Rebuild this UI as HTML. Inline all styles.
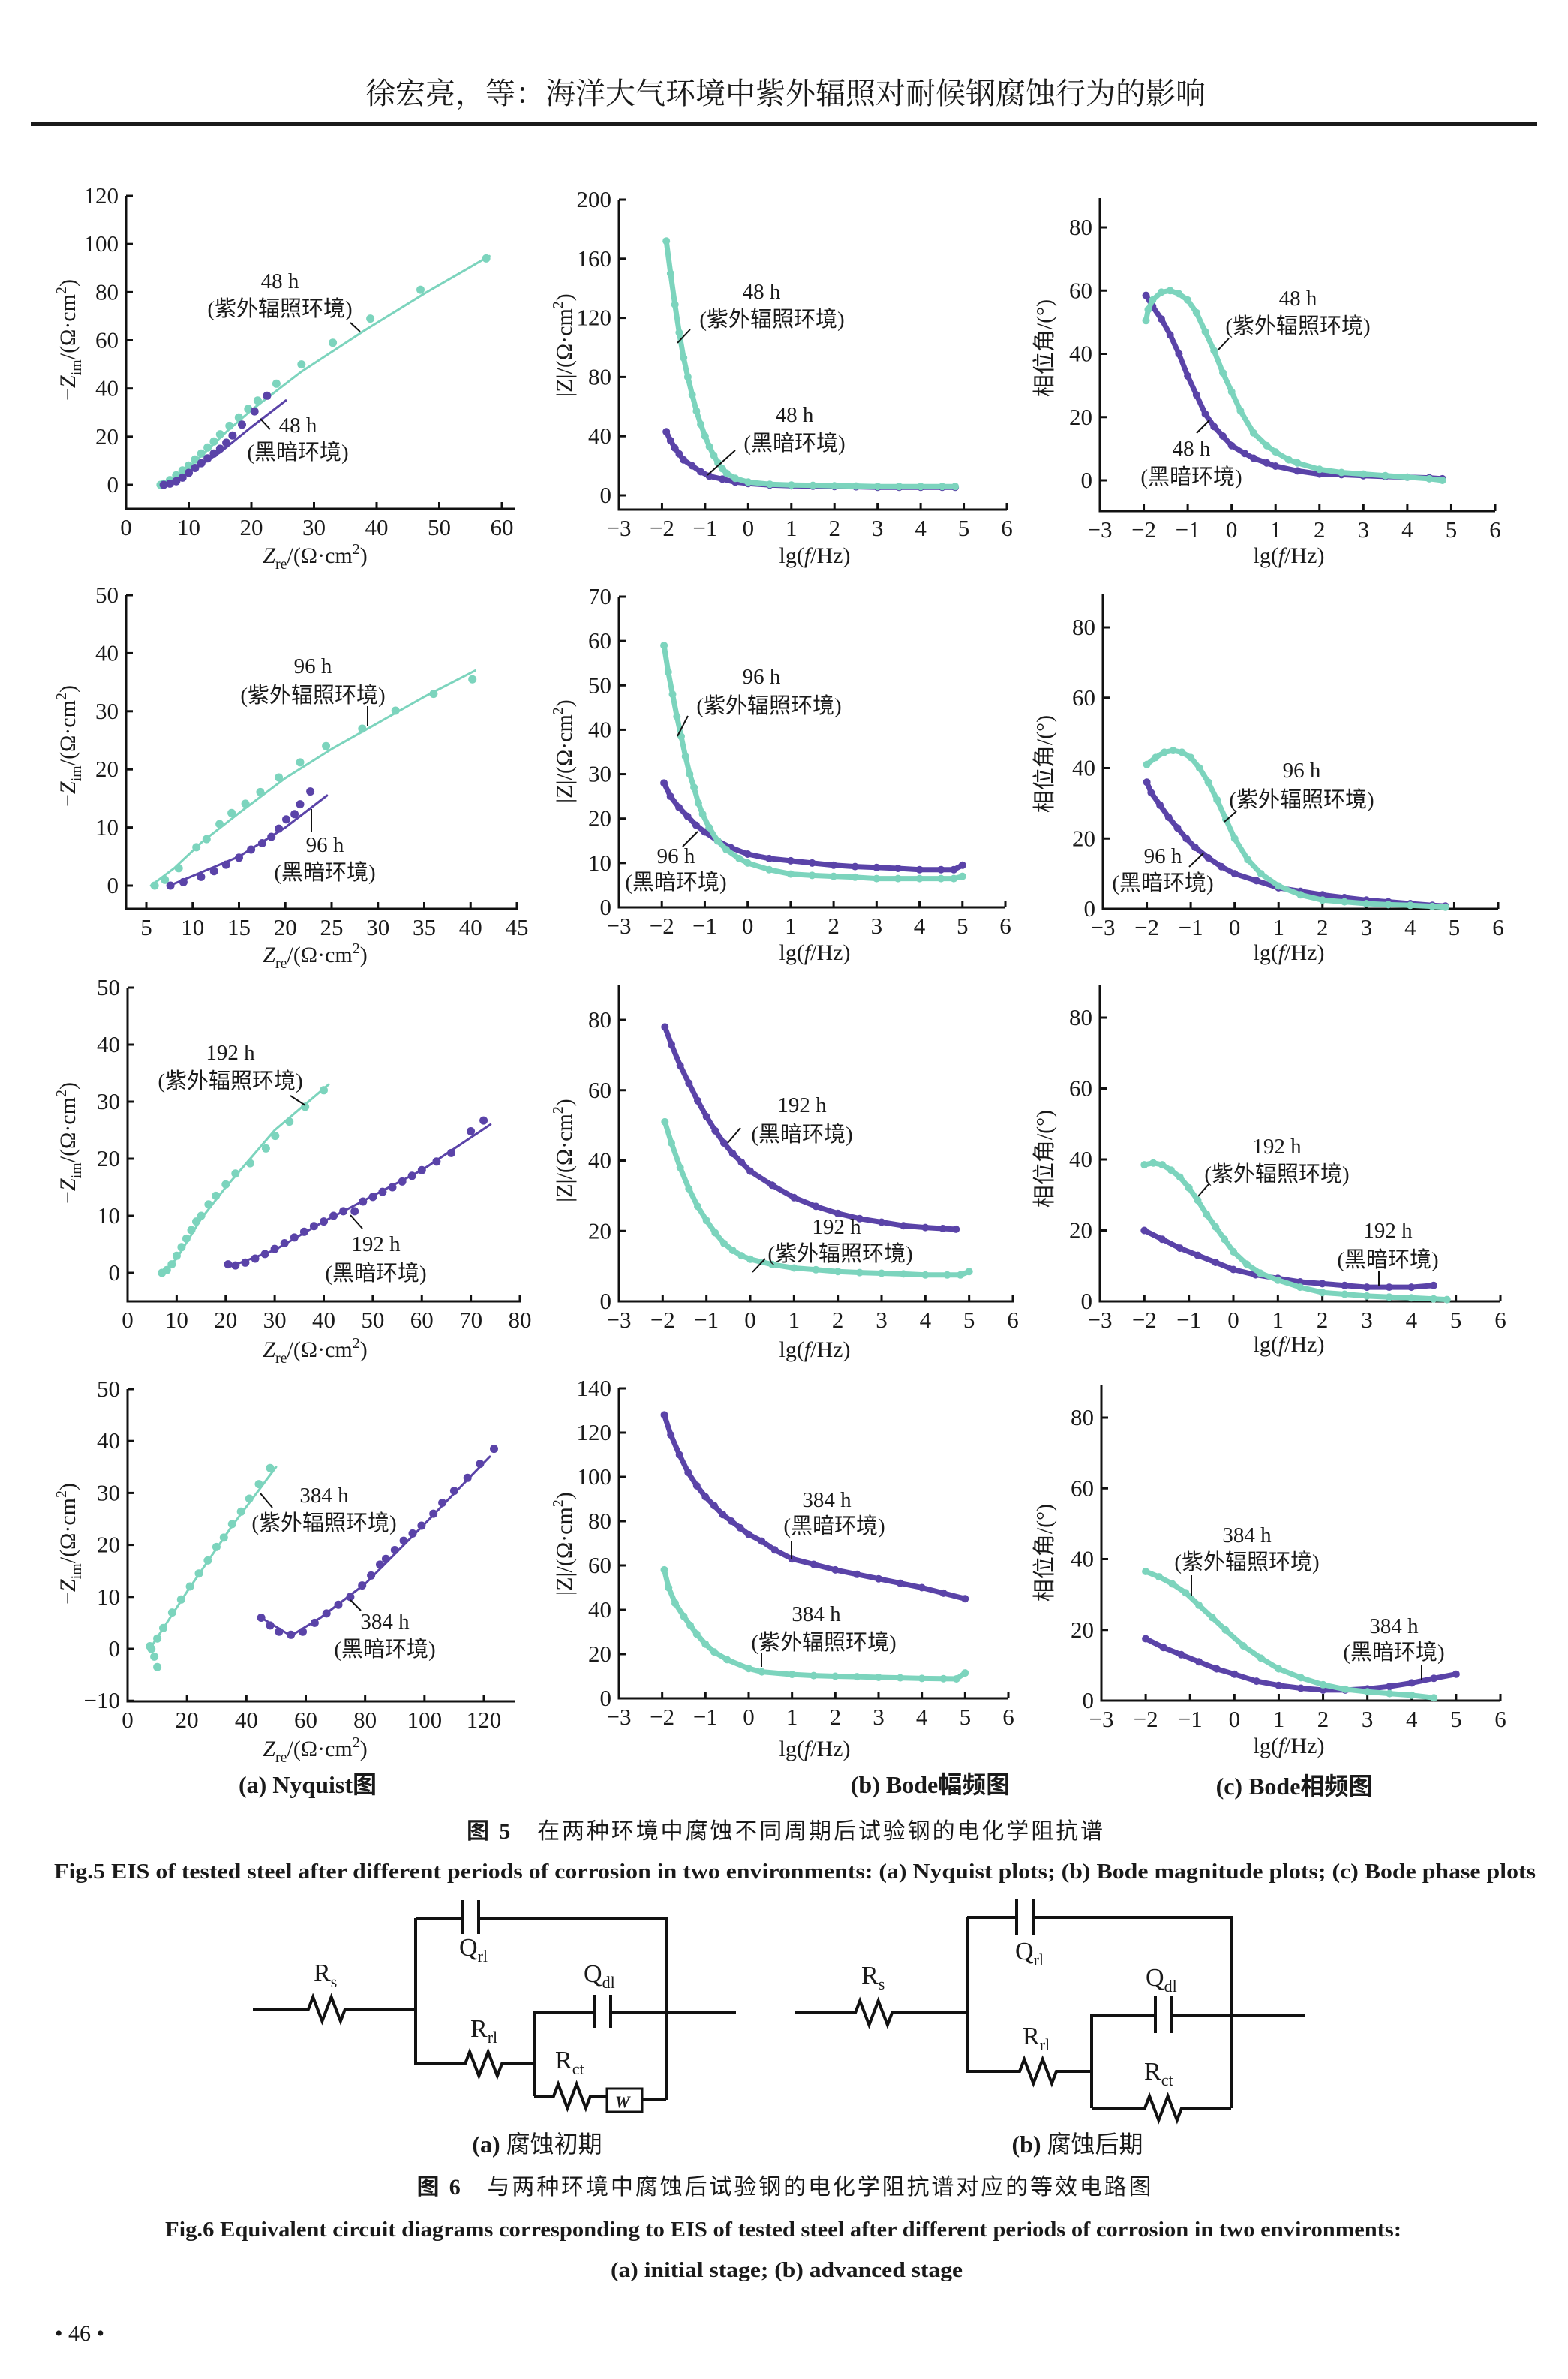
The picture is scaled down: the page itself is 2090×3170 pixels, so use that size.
<!DOCTYPE html>
<html><head><meta charset="utf-8"><style>
html,body{margin:0;padding:0;background:#fff}
svg{display:block}
text{font-family:"Liberation Serif","Noto Serif CJK SC","Noto Sans CJK SC",serif;fill:#1a1a1a}
.cjk{font-family:"Liberation Serif","Noto Sans CJK SC",sans-serif}
.serifcjk{font-family:"Liberation Serif","Noto Serif CJK SC",serif}
</style></head><body>
<svg id="page" xmlns="http://www.w3.org/2000/svg" width="2090" height="3170" viewBox="0 0 2090 3170">
<rect width="2090" height="3170" fill="#fff"/>
<text x="1047" y="138" font-size="40" text-anchor="middle" class="serifcjk">徐宏亮，等：海洋大气环境中紫外辐照对耐候钢腐蚀行为的影响</text>
<rect x="41" y="163" width="2008" height="5" fill="#1a1a1a"/>
<g id="charts"></g>
<g id="annot" font-size="29">
 <text x="373" y="384" text-anchor="middle">48 h</text><text class="cjk" x="373" y="421" text-anchor="middle">(紫外辐照环境)</text>
 <line x1="467" y1="430" x2="480" y2="442" stroke="#111" stroke-width="2"/>
 <text x="397" y="576" text-anchor="middle">48 h</text><text class="cjk" x="397" y="612" text-anchor="middle">(黑暗环境)</text>
 <line x1="360" y1="572" x2="347" y2="558" stroke="#111" stroke-width="2"/>
 <text x="1015" y="398" text-anchor="middle">48 h</text><text class="cjk" x="1029" y="435" text-anchor="middle">(紫外辐照环境)</text>
 <line x1="903" y1="457" x2="920" y2="439" stroke="#111" stroke-width="2"/>
 <text x="1059" y="562" text-anchor="middle">48 h</text><text class="cjk" x="1059" y="600" text-anchor="middle">(黑暗环境)</text>
 <line x1="943" y1="633" x2="980" y2="600" stroke="#111" stroke-width="2"/>
 <text x="1730" y="407" text-anchor="middle">48 h</text><text class="cjk" x="1730" y="444" text-anchor="middle">(紫外辐照环境)</text>
 <line x1="1624" y1="466" x2="1638" y2="451" stroke="#111" stroke-width="2"/>
 <text x="1588" y="607" text-anchor="middle">48 h</text><text class="cjk" x="1588" y="645" text-anchor="middle">(黑暗环境)</text>
 <line x1="1595" y1="577" x2="1612" y2="560" stroke="#111" stroke-width="2"/>
 <text x="417" y="897" text-anchor="middle">96 h</text><text class="cjk" x="417" y="936" text-anchor="middle">(紫外辐照环境)</text>
 <line x1="490" y1="941" x2="490" y2="968" stroke="#111" stroke-width="2"/>
 <text x="433" y="1135" text-anchor="middle">96 h</text><text class="cjk" x="433" y="1172" text-anchor="middle">(黑暗环境)</text>
 <line x1="415" y1="1078" x2="415" y2="1108" stroke="#111" stroke-width="2"/>
 <text x="1015" y="911" text-anchor="middle">96 h</text><text class="cjk" x="1025" y="950" text-anchor="middle">(紫外辐照环境)</text>
 <line x1="903" y1="981" x2="917" y2="954" stroke="#111" stroke-width="2"/>
 <text x="901" y="1150" text-anchor="middle">96 h</text><text class="cjk" x="901" y="1185" text-anchor="middle">(黑暗环境)</text>
 <line x1="910" y1="1128" x2="930" y2="1108" stroke="#111" stroke-width="2"/>
 <text x="1735" y="1036" text-anchor="middle">96 h</text><text class="cjk" x="1735" y="1075" text-anchor="middle">(紫外辐照环境)</text>
 <line x1="1632" y1="1095" x2="1648" y2="1081" stroke="#111" stroke-width="2"/>
 <text x="1550" y="1150" text-anchor="middle">96 h</text><text class="cjk" x="1550" y="1186" text-anchor="middle">(黑暗环境)</text>
 <line x1="1585" y1="1155" x2="1604" y2="1137" stroke="#111" stroke-width="2"/>
 <text x="307" y="1412" text-anchor="middle">192 h</text><text class="cjk" x="307" y="1450" text-anchor="middle">(紫外辐照环境)</text>
 <line x1="387" y1="1460" x2="407" y2="1473" stroke="#111" stroke-width="2"/>
 <text x="501" y="1667" text-anchor="middle">192 h</text><text class="cjk" x="501" y="1706" text-anchor="middle">(黑暗环境)</text>
 <line x1="467" y1="1619" x2="483" y2="1637" stroke="#111" stroke-width="2"/>
 <text x="1069" y="1482" text-anchor="middle">192 h</text><text class="cjk" x="1069" y="1521" text-anchor="middle">(黑暗环境)</text>
 <line x1="970" y1="1523" x2="987" y2="1503" stroke="#111" stroke-width="2"/>
 <text x="1115" y="1644" text-anchor="middle">192 h</text><text class="cjk" x="1120" y="1680" text-anchor="middle">(紫外辐照环境)</text>
 <line x1="1003" y1="1695" x2="1020" y2="1677" stroke="#111" stroke-width="2"/>
 <text x="1702" y="1537" text-anchor="middle">192 h</text><text class="cjk" x="1702" y="1574" text-anchor="middle">(紫外辐照环境)</text>
 <line x1="1597" y1="1594" x2="1612" y2="1577" stroke="#111" stroke-width="2"/>
 <text x="1850" y="1649" text-anchor="middle">192 h</text><text class="cjk" x="1850" y="1688" text-anchor="middle">(黑暗环境)</text>
 <line x1="1838" y1="1694" x2="1838" y2="1714" stroke="#111" stroke-width="2"/>
 <text x="432" y="2002" text-anchor="middle">384 h</text><text class="cjk" x="432" y="2039" text-anchor="middle">(紫外辐照环境)</text>
 <line x1="347" y1="1990" x2="363" y2="2009" stroke="#111" stroke-width="2"/>
 <text x="513" y="2170" text-anchor="middle">384 h</text><text class="cjk" x="513" y="2207" text-anchor="middle">(黑暗环境)</text>
 <line x1="467" y1="2132" x2="481" y2="2146" stroke="#111" stroke-width="2"/>
 <text x="1102" y="2008" text-anchor="middle">384 h</text><text class="cjk" x="1112" y="2043" text-anchor="middle">(黑暗环境)</text>
 <line x1="1055" y1="2053" x2="1055" y2="2077" stroke="#111" stroke-width="2"/>
 <text x="1088" y="2160" text-anchor="middle">384 h</text><text class="cjk" x="1098" y="2198" text-anchor="middle">(紫外辐照环境)</text>
 <line x1="1015" y1="2203" x2="1015" y2="2221" stroke="#111" stroke-width="2"/>
 <text x="1662" y="2055" text-anchor="middle">384 h</text><text class="cjk" x="1662" y="2091" text-anchor="middle">(紫外辐照环境)</text>
 <line x1="1588" y1="2099" x2="1588" y2="2126" stroke="#111" stroke-width="2"/>
 <text x="1858" y="2176" text-anchor="middle">384 h</text><text class="cjk" x="1858" y="2211" text-anchor="middle">(黑暗环境)</text>
 <line x1="1895" y1="2219" x2="1895" y2="2239" stroke="#111" stroke-width="2"/>
</g>
<g font-size="32" font-weight="bold">
 <text class="cjk" x="410" y="2389" text-anchor="middle">(a) Nyquist图</text>
 <text class="cjk" x="1240" y="2389" text-anchor="middle">(b) Bode幅频图</text>
 <text class="cjk" x="1725" y="2391" text-anchor="middle">(c) Bode相频图</text>
</g>
<text class="cjk" x="1046" y="2450" font-size="30" text-anchor="middle" textLength="848" lengthAdjust="spacing"><tspan font-weight="bold">图 5</tspan>　在两种环境中腐蚀不同周期后试验钢的电化学阻抗谱</text>
<text x="72" y="2503" font-size="29" font-weight="bold" textLength="1975" lengthAdjust="spacingAndGlyphs">Fig.5   EIS of tested steel after different periods of corrosion in two environments: (a) Nyquist plots; (b) Bode magnitude plots; (c) Bode phase plots</text>
<g id="circuits" stroke="#111" stroke-width="4" fill="none"></g>
<g font-size="34">
 <text x="418" y="2640">R<tspan font-size="22" dy="8">s</tspan></text>
 <text x="612" y="2606">Q<tspan font-size="22" dy="8">rl</tspan></text>
 <text x="778" y="2641">Q<tspan font-size="22" dy="8">dl</tspan></text>
 <text x="627" y="2714">R<tspan font-size="22" dy="8">rl</tspan></text>
 <text x="740" y="2756">R<tspan font-size="22" dy="8">ct</tspan></text>
 <text x="820" y="2808" font-size="22" font-style="italic" font-weight="bold" font-family="Liberation Sans, sans-serif">W</text>
 <text x="1148" y="2643">R<tspan font-size="22" dy="8">s</tspan></text>
 <text x="1353" y="2611">Q<tspan font-size="22" dy="8">rl</tspan></text>
 <text x="1527" y="2646">Q<tspan font-size="22" dy="8">dl</tspan></text>
 <text x="1363" y="2724">R<tspan font-size="22" dy="8">rl</tspan></text>
 <text x="1525" y="2771">R<tspan font-size="22" dy="8">ct</tspan></text>
</g>
<g font-size="32">
 <text class="cjk" x="716" y="2868" text-anchor="middle"><tspan font-weight="bold">(a)</tspan> 腐蚀初期</text>
 <text class="cjk" x="1436" y="2868" text-anchor="middle"><tspan font-weight="bold">(b)</tspan> 腐蚀后期</text>
</g>
<text class="cjk" x="1045" y="2924" font-size="30" text-anchor="middle" textLength="979" lengthAdjust="spacing"><tspan font-weight="bold">图 6</tspan>　与两种环境中腐蚀后试验钢的电化学阻抗谱对应的等效电路图</text>
<text x="220" y="2980" font-size="29" font-weight="bold" textLength="1648" lengthAdjust="spacingAndGlyphs">Fig.6   Equivalent circuit diagrams corresponding to EIS of tested steel after different periods of corrosion in two environments:</text>
<text x="814" y="3034" font-size="29" font-weight="bold" textLength="469" lengthAdjust="spacingAndGlyphs">(a) initial stage; (b) advanced stage</text>
<text x="73" y="3119" font-size="30">• 46 •</text>
</svg>
<script>
const a1UvX=[5.5,6,7,8,9,10,11,12,13,14,15,16.5,18,19.5,21,24,28,33,39,47,57.5];
const a1UvY=[0,0.5,2,4,6,8,10.5,13,15.5,18,21,24.5,28,31.5,35,42,50,59,69,81,94];
const a1UvFitX=[5.5,8,12,16,20,28,38,48,58];
const a1UvFitY=[0,3,12,22,31,47,64,80,95];
const a1DkX=[6,7,8,9,10,11,12,13,14,15,16,17,18.5,20.5,22.5];
const a1DkY=[0,0.5,1.5,3,5,7,9,11,13,15,17.5,20.5,25,30.5,37];
const a1DkFitX=[6,10,15,20,25.5];
const a1DkFitY=[0,5,13.5,24,35];
const a2UvX=[-1.9,-1.8,-1.7,-1.6,-1.5,-1.4,-1.3,-1.2,-1.1,-1,-0.9,-0.8,-0.7,-0.6,-0.5,-0.3,0,0.5,1,1.5,2,2.5,3,3.5,4,4.5,4.8];
const a2UvY=[172,150,129,110,93,80,68,57,48,40,33,27,22,18,15,11.5,9,7.5,7,6.8,6.5,6.3,6,6,6,6,6];
const a2DkX=[-1.9,-1.8,-1.7,-1.6,-1.5,-1.3,-1.1,-0.9,-0.6,-0.3,0,0.5,1,1.5,2,2.5,3,3.5,4,4.5,4.8];
const a2DkY=[43,37,32,28,24,20,16,13,11,9,8,7,6.5,6.2,6,5.8,5.5,5.5,5.5,5.5,5.5];
const a3UvX=[-1.95,-1.9,-1.8,-1.6,-1.4,-1.2,-1,-0.8,-0.6,-0.4,-0.2,0,0.2,0.5,0.8,1,1.3,1.5,2,2.5,3,3.5,4,4.5,4.8];
const a3UvY=[50.5,54,57,59.5,60,59,57,53,47,41,34,28,22,15,11,9,6.5,5.5,3.5,2.5,2,1.5,1,0.5,0];
const a3DkX=[-1.95,-1.8,-1.6,-1.4,-1.2,-1,-0.8,-0.6,-0.4,-0.2,0,0.3,0.5,0.8,1,1.5,2,2.5,3,3.5,4,4.5,4.8];
const a3DkY=[58.5,55,51,46,40,33,27,21,17,14,11,8.5,7,5.5,4.5,3,2,1.8,1.5,1.2,1,0.8,0.5];
const b1UvX=[5.9,7,8.5,10.4,11.5,12.9,14.2,15.7,17.3,19.3,21.6,24.4,28.3,31.9,36,40.2];
const b1UvY=[0,1,3,6.6,8,10.6,12.5,14.1,16.1,18.6,21.2,24,27,30.1,33,35.5];
const b1UvFitX=[5.5,8,11,15,20,25,30,35,40.5];
const b1UvFitY=[0,3,7.5,12.5,18.5,23.5,28,32.5,37];
const b1DkX=[7.6,9,10.9,12.3,13.6,15,16.3,17.5,18.5,19.3,20.1,21,21.6,22.7];
const b1DkY=[0,0.6,1.5,2.5,3.6,4.8,6.2,7.3,8.4,9.8,11.4,12.3,14,16.2];
const b1DkFitX=[7.5,12,15,20,24.5];
const b1DkFitY=[0,3,5,10,15.5];
const b2UvX=[-1.95,-1.85,-1.75,-1.65,-1.55,-1.45,-1.35,-1.25,-1.15,-1.05,-0.9,-0.7,-0.5,-0.2,0,0.5,1,1.5,2,2.5,3,3.5,4,4.5,4.8,5];
const b2UvY=[59,53,48,43,38.5,34,30,27,23.5,21,18,15,13,11,10,8.5,7.5,7.2,7,6.8,6.5,6.5,6.5,6.5,6.5,7];
const b2DkX=[-1.95,-1.8,-1.6,-1.4,-1.2,-1,-0.7,-0.4,0,0.5,1,1.5,2,2.5,3,3.5,4,4.5,4.8,5];
const b2DkY=[28,25,22.5,20.5,18.5,17,15,13.5,12,11,10.5,10,9.5,9.2,9,8.8,8.5,8.5,8.5,9.5];
const b3UvX=[-2,-1.8,-1.6,-1.4,-1.2,-1,-0.8,-0.6,-0.4,-0.2,0,0.3,0.6,1,1.5,2,2.5,3,3.5,4,4.5,4.8];
const b3UvY=[41,43,44.5,45,44.5,43,40,36,31,25.5,20,14,10,6.5,4,2.5,2,1.5,1.2,1,0.7,0.5];
const b3DkX=[-2,-1.9,-1.7,-1.5,-1.3,-1.1,-0.9,-0.6,-0.3,0,0.5,1,1.5,2,2.5,3,3.5,4,4.5,4.8];
const b3DkY=[36,33,29.5,26,23,20,17.5,14.5,12,10,8,6,5,4,3.2,2.5,2,1.5,1,0.8];
const c1UvX=[7,8,9,10,11,12,13,14,15,16.5,18,20,22,25,28.2,30.1,33,36.2,40];
const c1UvY=[0,0.5,1.5,3,4.5,6,7.5,9,10,12,13.5,15.5,17.4,19.2,21.8,24,26.5,29.1,32];
const c1UvFitX=[7,10,15,20,30,41];
const c1UvFitY=[0,2.5,9.5,15,25,33];
const c1DkX=[20.5,22,24,26,28,30,32,34,36,38,40,42,44,46.3,48,50,52,54,56,58,60,63,66,70,72.6];
const c1DkY=[1.5,1.3,1.8,2.5,3.3,4.2,5.2,6.2,7.2,8.2,9,10,10.8,10.8,12.5,13.3,14.2,15,16,17,18,19.5,21,24.8,26.7];
const c1DkFitX=[20.5,30,40,50,60,74];
const c1DkFitY=[1,4,9,13.5,18,26];
const c2DkX=[-1.95,-1.8,-1.6,-1.4,-1.2,-1,-0.8,-0.6,-0.4,-0.2,0,0.5,1,1.5,2,2.5,3,3.5,4,4.4,4.7];
const c2DkY=[78,73,67,62,57,52.5,48.5,45,42,39.5,37,33,29.5,27,25,23.5,22.5,21.5,21,20.7,20.5];
const c2UvX=[-1.95,-1.8,-1.6,-1.4,-1.2,-1,-0.8,-0.6,-0.4,-0.2,0,0.5,1,1.5,2,2.5,3,3.5,4,4.5,4.8,5];
const c2UvY=[51,45,38,32,27,23,19.5,16.5,14.5,13,12,10.5,9.5,9,8.5,8.2,8,7.8,7.5,7.5,7.5,8.5];
const c3UvX=[-2,-1.8,-1.6,-1.4,-1.2,-1,-0.8,-0.6,-0.4,-0.2,0,0.3,0.6,1,1.5,2,2.5,3,3.5,4,4.5,4.8];
const c3UvY=[38.5,39,38.5,37,35,32,28.5,24.5,21,17.5,14,10.5,8,6,4,2.5,2,1.5,1.2,1,0.7,0.5];
const c3DkX=[-2,-1.6,-1.2,-0.8,-0.4,0,0.5,1,1.5,2,2.5,3,3.5,4,4.5];
const c3DkY=[20,17.5,15,13,11,9,7.5,6.5,5.5,5,4.5,4,4,4,4.5];
const d1UvX=[7.5,9,10,8,10,12,15,18,21,24,27,29.9,32.4,35.2,38.2,41,44.2,48];
const d1UvY=[0.5,-1.5,-3.5,0,2,4,7,9.5,12,14.5,17,19.6,21.4,24,26.4,28.9,31.7,34.8];
const d1UvFitX=[7.5,20,35,50];
const d1UvFitY=[0,11,23.5,35];
const d1DkX=[45,48,51,55,59,63,67,71,75,79,82,85,87,90,93,96,99,103,106,110,114.5,118.7,123.4];
const d1DkY=[6,4.5,3.3,2.7,3.3,5,6.8,8.5,10,12.2,14.1,16.2,17.3,19,20.8,22.2,23.7,26,28.1,30.4,32.9,35.6,38.5];
const d1DkFitX=[45,55,65,80,100,122];
const d1DkFitY=[6,2.5,6,12.5,24,37];
const d2DkX=[-1.95,-1.8,-1.6,-1.4,-1.2,-1,-0.8,-0.6,-0.4,-0.2,0,0.3,0.6,1,1.5,2,2.5,3,3.5,4,4.5,5];
const d2DkY=[128,119,110,102,96,91,87,83,80,77,74,71,67,63,60.5,58,56,54,52,50,47.5,45];
const d2UvX=[-1.95,-1.85,-1.7,-1.5,-1.35,-1.2,-1,-0.8,-0.5,0,0.3,1,1.5,2,2.5,3,3.5,4,4.5,4.8,5];
const d2UvY=[58,50,43,37,33,29,24.5,21,17.5,13.5,12,10.8,10.3,10,9.8,9.5,9.3,9,8.9,8.8,11.5];
const d3UvX=[-2,-1.7,-1.4,-1.1,-0.8,-0.5,-0.2,0.2,0.6,1,1.5,2,2.5,3,3.5,4,4.5];
const d3UvY=[36.5,35,33,30.5,27,23.5,20,15.5,12,9,6.5,4.5,3.2,2.5,2,1.5,0.8];
const d3DkX=[-2,-1.6,-1.2,-0.8,-0.4,0,0.5,1,1.5,2,2.5,3,3.5,4,4.5,5];
const d3DkY=[17.5,15,13,11,9,7.5,5.5,4.3,3.5,3,3,3.3,4,5,6.3,7.5];
const nyqA1XTicks=[0,10,20,30,40,50,60], nyqA1YTicks=[0,20,40,60,80,100,120];
const nyqB1XTicks=[5,10,15,20,25,30,35,40,45], nyqB1YTicks=[0,10,20,30,40,50];
const nyqC1XTicks=[0,10,20,30,40,50,60,70,80], nyqC1YTicks=[0,10,20,30,40,50];
const nyqD1XTicks=[0,20,40,60,80,100,120], nyqD1YTicks=[-10,0,10,20,30,40,50];
const lgXTicks=[-3,-2,-1,0,1,2,3,4,5,6];
const magA2YTicks=[0,40,80,120,160,200], magB2YTicks=[0,10,20,30,40,50,60,70];
const magC2YTicks=[0,20,40,60,80], magD2YTicks=[0,20,40,60,80,100,120,140];
const phaseYTicks=[0,20,40,60,80];

const UV='#7cd4bd', DK='#5a43a8';
const NS='http://www.w3.org/2000/svg';
const root=document.getElementById('charts');
function el(tag,attrs,parent){const e=document.createElementNS(NS,tag);for(const k in attrs)e.setAttribute(k,attrs[k]);(parent||root).appendChild(e);return e;}
function fmt(v){return v<0?'\u2212'+Math.abs(v):String(v);}

function chart(name,c,xTicks,yTicks,series){
  const g=el('g',{});
  
  
  const sx=v=>c.x0p+(v-c.x0v)*(c.x1p-c.x0p)/(c.x1v-c.x0v);
  const sy=v=>c.y0p+(v-c.y0v)*(c.y1p-c.y0p)/(c.y1v-c.y0v);
  const ya=el('line',{x1:c.left,y1:c.top,x2:c.left,y2:c.bottom,stroke:'#111','stroke-width':3},g);
  
  
  const xa=el('line',{x1:c.left-1.5,y1:c.bottom,x2:c.right,y2:c.bottom,stroke:'#111','stroke-width':3},g);
  
  
  yTicks.forEach(v=>{
    el('line',{x1:c.left,y1:sy(v),x2:c.left+9,y2:sy(v),stroke:'#111','stroke-width':3},g);
    const t=el('text',{x:c.left-10,y:sy(v)+10,'font-size':31,'text-anchor':'end'},g);
    t.textContent=fmt(v);
    
    
  });
  xTicks.forEach(v=>{
    if(Math.abs(sx(v)-c.left)>3) el('line',{x1:sx(v),y1:c.bottom,x2:sx(v),y2:c.bottom-9,stroke:'#111','stroke-width':3},g);
    const t=el('text',{x:sx(v),y:c.bottom+35,'font-size':31,'text-anchor':'middle'},g);
    t.textContent=fmt(v);
    
    
  });
  series.forEach(s=>{
    const lx=s.fx||s.x, ly=s.fy||s.y;
    const pl=el('polyline',{points:lx.map((v,i)=>sx(v).toFixed(1)+','+sy(ly[i]).toFixed(1)).join(' '),fill:'none',stroke:s.col,'stroke-width':s.fx?3:7,'stroke-linejoin':'round','stroke-linecap':'round'},g);
    
    
    s.x.forEach((v,i)=>{
      const d=el('circle',{cx:sx(v).toFixed(1),cy:sy(s.y[i]).toFixed(1),r:s.fx?5.5:5,fill:s.col},g);
      
      
    });
  });
  return g;
}
function titleText(x,y,html,rot,name){
  const t=el('text',{x:x,y:y,'font-size':30,'text-anchor':'middle',class:'cjk'});
  if(rot) t.setAttribute('transform','rotate(-90 '+x+' '+(y-10)+')');
  t.innerHTML=html;
  
  
}
const nyqY='\u2212<tspan font-style="italic">Z</tspan><tspan font-size="20" dy="8">im</tspan><tspan dy="-8">/(Ω·cm</tspan><tspan font-size="20" dy="-12">2</tspan><tspan dy="12">)</tspan>';
const nyqX='<tspan font-style="italic">Z</tspan><tspan font-size="20" dy="8">re</tspan><tspan dy="-8">/(Ω·cm</tspan><tspan font-size="20" dy="-12">2</tspan><tspan dy="12">)</tspan>';
const magY='|Z|/(Ω·cm<tspan font-size="20" dy="-12">2</tspan><tspan dy="12">)</tspan>';
const lgX='lg(<tspan font-style="italic">f</tspan>/Hz)';
const phY='相位角/(°)';

chart('nyquist-48h',{x0p:168,x0v:0,x1p:669,x1v:60,y0p:646,y0v:0,y1p:261,y1v:120,left:168,right:687,top:261,bottom:678},nyqA1XTicks,nyqA1YTicks,
 [{name:'uv-48h',col:UV,x:a1UvX,y:a1UvY,fx:a1UvFitX,fy:a1UvFitY},{name:'dark-48h',col:DK,x:a1DkX,y:a1DkY,fx:a1DkFitX,fy:a1DkFitY}]);
chart('bode-mag-48h',{x0p:825,x0v:-3,x1p:1342,x1v:6,y0p:660,y0v:0,y1p:266,y1v:200,left:825,right:1342,top:266,bottom:679},lgXTicks,magA2YTicks,
 [{name:'dark-48h',col:DK,x:a2DkX,y:a2DkY},{name:'uv-48h',col:UV,x:a2UvX,y:a2UvY}]);
chart('bode-phase-48h',{x0p:1466,x0v:-3,x1p:1993,x1v:6,y0p:640,y0v:0,y1p:303,y1v:80,left:1466,right:1993,top:264,bottom:681},lgXTicks,phaseYTicks,
 [{name:'dark-48h',col:DK,x:a3DkX,y:a3DkY},{name:'uv-48h',col:UV,x:a3UvX,y:a3UvY}]);
chart('nyquist-96h',{x0p:195,x0v:5,x1p:689,x1v:45,y0p:1180,y0v:0,y1p:793,y1v:50,left:168,right:690,top:793,bottom:1211},nyqB1XTicks,nyqB1YTicks,
 [{name:'uv-96h',col:UV,x:b1UvX,y:b1UvY,fx:b1UvFitX,fy:b1UvFitY},{name:'dark-96h',col:DK,x:b1DkX,y:b1DkY,fx:b1DkFitX,fy:b1DkFitY}]);
chart('bode-mag-96h',{x0p:825,x0v:-3,x1p:1340,x1v:6,y0p:1209,y0v:0,y1p:795,y1v:70,left:825,right:1340,top:795,bottom:1209},lgXTicks,magB2YTicks,
 [{name:'dark-96h',col:DK,x:b2DkX,y:b2DkY},{name:'uv-96h',col:UV,x:b2UvX,y:b2UvY}]);
chart('bode-phase-96h',{x0p:1470,x0v:-3,x1p:1997,x1v:6,y0p:1211,y0v:0,y1p:836,y1v:80,left:1470,right:1997,top:792,bottom:1211},lgXTicks,phaseYTicks,
 [{name:'dark-96h',col:DK,x:b3DkX,y:b3DkY},{name:'uv-96h',col:UV,x:b3UvX,y:b3UvY}]);
chart('nyquist-192h',{x0p:170,x0v:0,x1p:693,x1v:80,y0p:1696,y0v:0,y1p:1316,y1v:50,left:170,right:695,top:1316,bottom:1734},nyqC1XTicks,nyqC1YTicks,
 [{name:'uv-192h',col:UV,x:c1UvX,y:c1UvY,fx:c1UvFitX,fy:c1UvFitY},{name:'dark-192h',col:DK,x:c1DkX,y:c1DkY,fx:c1DkFitX,fy:c1DkFitY}]);
chart('bode-mag-192h',{x0p:825,x0v:-3,x1p:1350,x1v:6,y0p:1734,y0v:0,y1p:1359,y1v:80,left:825,right:1352,top:1313,bottom:1734},lgXTicks,magC2YTicks,
 [{name:'dark-192h',col:DK,x:c2DkX,y:c2DkY},{name:'uv-192h',col:UV,x:c2UvX,y:c2UvY}]);
chart('bode-phase-192h',{x0p:1466,x0v:-3,x1p:2000,x1v:6,y0p:1734,y0v:0,y1p:1356,y1v:80,left:1466,right:2000,top:1312,bottom:1734},lgXTicks,phaseYTicks,
 [{name:'dark-192h',col:DK,x:c3DkX,y:c3DkY},{name:'uv-192h',col:UV,x:c3UvX,y:c3UvY}]);
chart('nyquist-384h',{x0p:170,x0v:0,x1p:645,x1v:120,y0p:2197,y0v:0,y1p:1851,y1v:50,left:170,right:687,top:1851,bottom:2267},nyqD1XTicks,nyqD1YTicks,
 [{name:'uv-384h',col:UV,x:d1UvX,y:d1UvY,fx:d1UvFitX,fy:d1UvFitY},{name:'dark-384h',col:DK,x:d1DkX,y:d1DkY,fx:d1DkFitX,fy:d1DkFitY}]);
chart('bode-mag-384h',{x0p:825,x0v:-3,x1p:1344,x1v:6,y0p:2263,y0v:0,y1p:1850,y1v:140,left:825,right:1344,top:1850,bottom:2263},lgXTicks,magD2YTicks,
 [{name:'dark-384h',col:DK,x:d2DkX,y:d2DkY},{name:'uv-384h',col:UV,x:d2UvX,y:d2UvY}]);
chart('bode-phase-384h',{x0p:1468,x0v:-3,x1p:2000,x1v:6,y0p:2266,y0v:0,y1p:1889,y1v:80,left:1468,right:2000,top:1846,bottom:2266},lgXTicks,phaseYTicks,
 [{name:'dark-384h',col:DK,x:d3DkX,y:d3DkY},{name:'uv-384h',col:UV,x:d3UvX,y:d3UvY}]);

[[453,740],[994,1272],[1523,1798],[2057,2330]].forEach(r=>{
  titleText(90,r[0]+10,nyqY,true,'nyquist-y-axis-title');
  titleText(420,r[1]+10,nyqX,false,'nyquist-x-axis-title');
});
[[460,740],[1001,1269],[1533,1798],[2057,2330]].forEach(r=>{
  titleText(752,r[0]+10,magY,true,'bode-mag-y-axis-title');
  titleText(1086,r[1]+10,lgX,false,'bode-mag-x-axis-title');
});
[[464,740],[1018,1269],[1544,1791],[2069,2326]].forEach(r=>{
  titleText(1392,r[0]+10,phY,true,'bode-phase-y-axis-title');
  titleText(1718,r[1]+10,lgX,false,'bode-phase-x-axis-title');
});

const cg=document.getElementById('circuits');
function path(d,name){const p=el('path',{d:d},cg);}
function res(x1,x2,y){const w=(x2-x1)/4,h=16;return 'L'+(x1+w*0.5)+' '+(y-h)+' L'+(x1+w*1.5)+' '+(y+h)+' L'+(x1+w*2.5)+' '+(y-h)+' L'+(x1+w*3.5)+' '+(y+h)+' L'+x2+' '+y;}
path('M337 2677 L411 2677 '+res(411,460,2677)+' L554 2677','circuit-a-rs');
path('M554 2556 L617 2556 M638 2556 L888 2556 L888 2798','circuit-a-top');
path('M617 2532 L617 2577 M638 2532 L638 2577','circuit-a-qrl');
path('M554 2556 L554 2750 L620 2750 '+res(620,669,2750)+' L712 2750','circuit-a-rrl');
path('M712 2793 L712 2681 L793 2681 M814 2681 L981 2681','circuit-a-inner');
path('M793 2658 L793 2702 M814 2658 L814 2702','circuit-a-qdl');
path('M712 2793 L738 2793 '+res(738,787,2793)+' L809 2793 M856 2798 L888 2798','circuit-a-rct');
const wb=el('rect',{x:809,y:2783,width:47,height:31,'stroke-width':3},cg);


path('M1060 2682 L1140 2682 '+res(1140,1189,2682)+' L1289 2682','circuit-b-rs');
path('M1289 2555 L1355 2555 M1377 2555 L1641 2555 L1641 2809','circuit-b-top');
path('M1355 2530 L1355 2578 M1377 2530 L1377 2578','circuit-b-qrl');
path('M1289 2555 L1289 2760 L1359 2760 '+res(1359,1408,2760)+' L1455 2760','circuit-b-rrl');
path('M1455 2809 L1455 2686 L1540 2686 M1562 2686 L1739 2686','circuit-b-inner');
path('M1540 2660 L1540 2709 M1562 2660 L1562 2709','circuit-b-qdl');
path('M1455 2809 L1526 2809 '+res(1526,1575,2809)+' L1641 2809','circuit-b-rct');
</script>
</body></html>
